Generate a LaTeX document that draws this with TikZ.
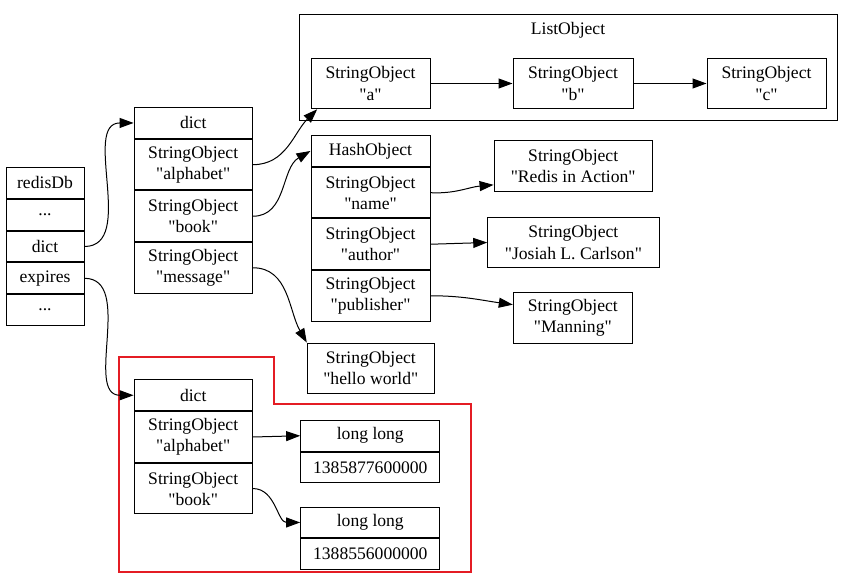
\documentclass[tikz,border=0pt]{standalone}
\usepackage{fontspec}
\defaultfontfeatures[\rmfamily]{}
\setmainfont{Liberation Serif}
\usepackage{xcolor}
\usepackage{tikz}
\usetikzlibrary{arrows.meta, positioning}

\definecolor{keepred}{RGB}{228,28,36}

\begin{document}
\begin{tikzpicture}[
    x=0.75pt, y=-0.75pt,
    box/.style={draw, line width=0.75pt, inner sep=0pt, align=center, font=\fontsize{13.2}{15.8}\selectfont},
    hrow/.style={box, minimum height=23.2pt},
    drow/.style={box, minimum height=37.9pt},
    dbrow/.style={box, minimum height=23.1pt, minimum width=58.5pt},
    dictrow/.style={minimum width=88.7pt},
    hashrow/.style={minimum width=89.25pt},
    llrow/.style={box, minimum height=22.9pt, minimum width=104.5pt},
    arrow/.style={-{Triangle[length=10.5pt, width=7.5pt]}, line width=0.75pt},
]
\useasboundingbox (0,0) rectangle (853,577);

% redisDb table
\node[dbrow, anchor=north] (rdbHead) at (45,167) {redisDb};
\node[dbrow, below=0pt of rdbHead] (rdbDotsA) {...};
\node[dbrow, below=0pt of rdbDotsA] (rdbDict) {dict};
\node[dbrow, below=0pt of rdbDict] (rdbExpires) {expires};
\node[dbrow, below=0pt of rdbExpires] (rdbDotsB) {...};

% key space dict
\node[hrow, dictrow, anchor=north] (dictHead) at (193.2,107) {dict};
\node[drow, dictrow, below=0pt of dictHead] (dictAlpha) {StringObject\\"alphabet"};
\node[drow, dictrow, below=0pt of dictAlpha] (dictBook) {StringObject\\"book"};
\node[drow, dictrow, below=0pt of dictBook] (dictMsg) {StringObject\\"message"};

% ListObject
\draw[line width=0.75pt] (299,15) rectangle (837,121);
\node[font=\fontsize{13.2}{15.8}\selectfont] (listLabel) at (568,30) {ListObject};
\node[drow, minimum width=89.25pt] (listA) at (370.5,83.5) {StringObject\\"a"};
\node[drow, minimum width=90pt] (listB) at (573,83.5) {StringObject\\"b"};
\node[drow, minimum width=89.25pt] (listC) at (766.5,83.5) {StringObject\\"c"};

% HashObject
\node[hrow, hashrow, anchor=north] (hashHead) at (370.5,135) {HashObject};
\node[drow, hashrow, below=0pt of hashHead] (hashName) {StringObject\\"name"};
\node[drow, hashrow, below=0pt of hashName] (hashAuthor) {StringObject\\"author"};
\node[drow, hashrow, below=0pt of hashAuthor] (hashPub) {StringObject\\"publisher"};

\node[drow, minimum width=118.7pt] (valName) at (573.2,166.2) {StringObject\\"Redis in Action"};
\node[drow, minimum width=128.5pt] (valAuthor) at (573.4,242.5) {StringObject\\"Josiah L. Carlson"};
\node[drow, minimum width=89.25pt] (valPub) at (572.8,318) {StringObject\\"Manning"};
\node[drow, minimum width=95.25pt] (valMsg) at (370.8,368.3) {StringObject\\"hello world"};

% expires dict
\draw[keepred, line width=2pt] (119,357) -- (274,357) -- (274,404) -- (471,404) -- (471,572) -- (119,572) -- cycle;
\node[hrow, dictrow, anchor=north] (expHead) at (193.2,379.3) {dict};
\node[drow, dictrow, below=0pt of expHead] (expAlpha) {StringObject\\"alphabet"};
\node[drow, dictrow, below=0pt of expAlpha] (expBook) {StringObject\\"book"};

\node[llrow, anchor=north] (llAHead) at (370.3,420) {long long};
\node[llrow, below=0pt of llAHead] (llAVal) {1385877600000};
\node[llrow, anchor=north] (llBHead) at (370.3,506.7) {long long};
\node[llrow, below=0pt of llBHead] (llBVal) {1388556000000};

% connectors
\draw[arrow] (rdbDict.east) to[out=0, in=180] (dictHead.west);
\draw[arrow] (rdbExpires.east) to[out=0, in=180] (expHead.west);
\draw[arrow] (dictAlpha.east) to[out=0, in=-135] ([xshift=5pt]listA.south west);
\draw[arrow] (dictBook.east) to[out=0, in=-150] (hashHead.west);
\draw[arrow] (dictMsg.east) to[out=0, in=120] (valMsg.north west);
\draw[arrow] (listA) -- (listB);
\draw[arrow] (listB) -- (listC);
\draw[arrow] (hashName.east) to[out=-3, in=185] ([yshift=-14pt]valName.west);
\draw[arrow] (hashAuthor.east) -- (valAuthor.west);
\draw[arrow] (hashPub.east) to[out=0, in=172] ([yshift=10pt]valPub.west);
\draw[arrow] (expAlpha.east) -- (llAHead.west);
\draw[arrow] (expBook.east) to[out=0, in=180] (llBHead.west);

\end{tikzpicture}
\end{document}
